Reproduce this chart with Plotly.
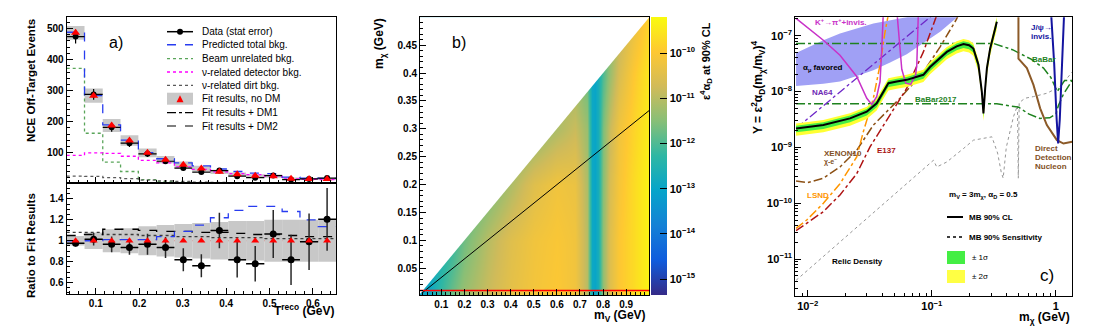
import plotly.graph_objects as go

W, H = 1100, 331
OFF = 8  # the page body margin shifts the figure by this many pixels
FONT = "Liberation Sans, Arial, sans-serif"

# ---------------- panel a) NCE off-target events ----------------
t_edges = [0.033, 0.074, 0.116, 0.157, 0.198, 0.240, 0.281, 0.322,
           0.364, 0.405, 0.446, 0.488, 0.529, 0.570, 0.612, 0.653]
data_events = [474, 288, 182, 131, 97, 73, 51, 38, 43, 25, 20, 27, 14, 16, 19]
data_err = [22, 17, 14, 12, 10, 9, 7, 6, 7, 5, 5, 5, 4, 4, 4]
fit_no_dm = [486, 284, 188, 140, 100, 78, 62, 50, 39, 31, 26, 25, 17, 16, 16]
fit_band = [0.045, 0.08, 0.11, 0.12, 0.14, 0.15, 0.16, 0.17, 0.18, 0.19, 0.19, 0.20, 0.20, 0.20, 0.20]
pred_total = [488, 284, 190, 141, 101, 81, 68, 58, 48, 40, 35, 33, 22, 19, 18]
beam_unrelated = [372, 163, 70, 40, 14, 8, 6, 4, 3, 2, 2, 1, 1, 1, 1]
nu_detector = [92, 100, 98, 89, 76, 68, 55, 47, 39, 33, 30, 25, 16, 15, 14]
nu_dirt = [25, 24, 20, 17, 12, 10, 8, 6, 5, 4, 3, 3, 2, 2, 2]

ratio_data = [0.976, 1.015, 0.966, 0.935, 0.966, 0.935, 0.817, 0.76, 1.097, 0.817, 0.78, 1.065, 0.817, 0.99, 1.205]
ratio_err = [0.03, 0.06, 0.075, 0.07, 0.1, 0.1, 0.11, 0.11, 0.17, 0.17, 0.17, 0.23, 0.24, 0.27, 0.3]
ratio_pred = [1.0, 1.0, 1.01, 1.01, 1.01, 1.04, 1.09, 1.15, 1.22, 1.29, 1.33, 1.33, 1.28, 1.2, 1.135]
ratio_dm1 = [1.08, 1.08, 1.06, 1.06, 1.05, 1.05, 1.04, 1.04, 1.03, 1.03, 1.03, 1.02, 1.02, 1.02, 1.02]
ratio_dm2 = [1.05, 1.06, 1.11, 1.11, 1.10, 1.09, 1.09, 1.08, 1.08, 1.07, 1.06, 1.06, 1.05, 1.04, 1.04]

# ---------------- panel b) limit map ----------------
bm_mv = [0.0, 0.05, 0.1, 0.15, 0.2, 0.3, 0.4, 0.5, 0.6, 0.68, 0.73, 0.752, 0.765, 0.778, 0.8, 0.83, 0.87, 0.93, 1.0]
bm_mchi = [0.0, 0.1, 0.2, 0.3, 0.4, 0.5]
bm_log_limit = [
    [-13.0, -12.9, -12.2, -11.7, -11.3, -10.8, -10.4, -10.15, -10.0, -10.2, -11.0, -12.9, -13.0, -12.7, -11.4, -10.5, -10.0, -9.7, -9.3],
    [-12.9, -12.9, -12.6, -12.2, -11.7, -11.0, -10.5, -10.2, -10.05, -10.2, -11.0, -12.9, -13.0, -12.7, -11.4, -10.5, -10.0, -9.7, -9.3],
    [-12.9, -12.9, -12.9, -12.5, -12.2, -11.7, -11.1, -10.5, -10.2, -10.3, -11.1, -12.9, -13.0, -12.7, -11.5, -10.6, -10.1, -9.7, -9.3],
    [-12.9, -12.9, -12.9, -12.5, -12.2, -12.0, -11.8, -11.5, -11.1, -10.8, -11.3, -12.9, -13.0, -12.7, -11.6, -10.8, -10.2, -9.8, -9.4],
    [-12.9, -12.9, -12.9, -12.5, -12.2, -12.0, -11.8, -11.5, -11.3, -11.3, -11.8, -12.9, -13.0, -12.7, -12.0, -11.3, -10.6, -10.0, -9.5],
    [-12.9, -12.9, -12.9, -12.5, -12.2, -12.0, -11.8, -11.5, -11.3, -11.3, -11.8, -12.9, -13.0, -12.7, -12.0, -11.5, -11.0, -10.4, -9.8],
]
kin_limit_mv = [0.0, 1.0]
kin_limit_mchi = [0.0, 0.5]
mv3_line_mv = [0.02, 1.0]
mv3_line_mchi = [0.0067, 0.333]
mchi_min_mv = [0.0, 1.0]
mchi_min = [0.01, 0.01]
cb_exponents = [-15, -14, -13, -12, -11, -10]

# ---------------- panel c) Y vs m_chi (log10 values) ----------------
mb_lgm = [-2.094, -1.874, -1.659, -1.524, -1.444, -1.390, -1.350, -1.282, -1.202, -1.068, -1.014,
          -0.879, -0.800, -0.745, -0.700, -0.665, -0.624, -0.597, -0.584, -0.570, -0.556, -0.530, -0.476]
mb_lgy = [-8.66, -8.60, -8.48, -8.36, -8.21, -8.00, -7.85, -7.82, -7.79, -7.70, -7.56,
          -7.29, -7.19, -7.15, -7.17, -7.23, -7.52, -8.00, -8.39, -7.94, -7.58, -7.23, -6.75]
amu_up_lgm = [-2.094, -1.874, -1.740, -1.471, -1.135, -0.800]
amu_up_lgy = [-7.31, -7.08, -6.96, -6.78, -6.64, -6.50]
amu_lo_lgm = [-2.094, -1.874, -1.740, -1.605, -1.471, -1.336, -1.202, -1.068, -0.933, -0.800, -0.750]
amu_lo_lgy = [-7.90, -7.86, -7.82, -7.72, -7.62, -7.48, -7.33, -7.13, -6.93, -6.68, -6.55]
kpi_lgm = [-2.094, -1.874, -1.740, -1.605, -1.524, -1.484, -1.444, -1.417, -1.403, -1.390, None,
           -1.282, -1.242, -1.210, -1.170, -1.130, -1.121, -1.108]
kpi_lgy = [-6.69, -7.08, -7.35, -7.73, -8.12, -8.23, -8.09, -7.82, -7.23, -6.55, None,
           -6.55, -7.60, -7.85, -7.87, -7.70, -7.52, -6.55]
na64_lgm = [-2.094, -0.950]
na64_lgy = [-8.66, -6.55]
babar_lgm = [-2.094, -0.500, -0.350, -0.200, -0.100, -0.040, 0.010, 0.040, 0.070, 0.131]
babar_lgy = [-7.14, -7.14, -7.25, -7.42, -7.58, -7.75, -8.00, -7.90, -7.80, -7.80]
babar17_lgm = [-2.094, -0.476, -0.300, -0.220, -0.130, -0.050, 0.000, 0.020, 0.060, 0.131]
babar17_lgy = [-8.22, -8.22, -8.28, -8.40, -8.48, -8.47, -8.40, -8.25, -8.05, -7.80]
xenon_lgm = [-2.094, -2.000, -1.874, -1.740, -1.605, -1.471, -1.256, -1.068, -0.933, -0.800, -0.770]
xenon_lgy = [-9.60, -9.63, -9.55, -9.35, -9.05, -8.60, -8.12, -7.65, -7.20, -6.70, -6.55]
lsnd_lgm = [-2.094, -2.008, -1.874, -1.740, -1.605, -1.552, -1.471, -1.417, -1.377, -1.344]
lsnd_lgy = [-10.45, -10.30, -10.00, -9.65, -9.17, -8.72, -8.12, -7.52, -6.93, -6.55]
e137_lgm = [-2.094, -2.008, -1.874, -1.740, -1.605, -1.498, -1.336, -1.202, -1.068, -0.960, -0.930]
e137_lgy = [-10.49, -10.36, -10.15, -9.85, -9.47, -8.99, -8.42, -7.94, -7.29, -6.63, -6.55]
relic_lgm = [-2.094, -0.987, -0.960, -0.879, -0.745, -0.665, -0.516, -0.470, -0.440, -0.425, -0.400,
             -0.342, -0.310, -0.303, -0.296, -0.250, -0.181, -0.073, 0.034, 0.131]
relic_lgy = [-11.38, -9.23, -9.35, -9.26, -9.02, -8.87, -8.81, -9.10, -9.45, -9.55, -9.00,
             -8.45, -8.25, -9.55, -8.20, -8.12, -8.09, -8.03, -7.91, -7.65]
dd_lgm = [-0.302, -0.302, -0.234, -0.181, -0.127, -0.073, 0.008, 0.061, 0.131]
dd_lgy = [-6.55, -7.41, -7.58, -7.88, -8.30, -8.60, -8.87, -8.93, -8.90]
jpsi_lgm = [-0.040, -0.014, 0.006, 0.018, 0.031, 0.051, 0.067]
jpsi_lgy = [-6.55, -7.50, -8.50, -8.93, -8.50, -7.50, -6.55]
band1 = (0.05, 0.07)   # +/- 1 sigma (up, down), decades
band2 = (0.09, 0.13)   # +/- 2 sigma


def px(v):
    return (v - OFF) / (W - OFF)


def py(v):
    return 1 - (v - OFF) / (H - OFF)


def pw(vals):
    return [None if v is None else 10 ** v for v in vals]


def font(size, color="black", bold=True):
    return dict(family=FONT, size=size, color=color, weight="bold" if bold else "normal")


def frame(**kw):
    minor = kw.pop("minor", None)
    ax = dict(showline=True, linecolor="black", linewidth=1, mirror=True, ticks="inside",
              ticklen=6, tickcolor="black", showgrid=False, zeroline=False,
              tickfont=font(10))
    if minor is not None:
        ax["minor"] = dict(ticks="inside", ticklen=3, tickcolor="black", showgrid=False, **minor)
    ax.update(kw)
    return ax


centers = [(a + b) / 2 for a, b in zip(t_edges[:-1], t_edges[1:])]
half_w = [(b - a) / 2 for a, b in zip(t_edges[:-1], t_edges[1:])]
widths = [2 * h for h in half_w]


def steps(vals):
    return t_edges, list(vals) + [vals[-1]]


fig = go.Figure()

# ---- panel a, top
band_abs = [f * b for f, b in zip(fit_no_dm, fit_band)]
fig.add_trace(go.Bar(x=centers, y=[2 * b for b in band_abs], base=[f - b for f, b in zip(fit_no_dm, band_abs)],
                     width=widths, marker=dict(color="#c8c8c8", line_width=0), xaxis="x", yaxis="y"))
for vals, color, dash in [(beam_unrelated, "rgb(90,165,90)", "dot"),
                          (nu_detector, "rgb(255,0,255)", "dot"),
                          (nu_dirt, "rgb(90,90,90)", "dot"),
                          (pred_total, "rgb(40,60,240)", "dash")]:
    sx, sy = steps(vals)
    fig.add_trace(go.Scatter(x=sx, y=sy, mode="lines", line=dict(color=color, width=1.3, dash=dash, shape="hv"),
                             xaxis="x", yaxis="y"))
fig.add_trace(go.Scatter(x=centers, y=data_events, mode="markers", marker=dict(color="black", size=6),
                         error_y=dict(array=data_err, color="black", thickness=1.2, width=0),
                         error_x=dict(array=half_w, color="black", thickness=1.2, width=0),
                         xaxis="x", yaxis="y"))
fig.add_trace(go.Scatter(x=centers, y=fit_no_dm, mode="markers",
                         marker=dict(color="red", size=8, symbol="triangle-up"), xaxis="x", yaxis="y"))

# ---- panel a, ratio
fig.add_trace(go.Bar(x=centers, y=[2 * b for b in fit_band], base=[1 - b for b in fit_band],
                     width=widths, marker=dict(color="#c8c8c8", line_width=0), xaxis="x2", yaxis="y2"))
for vals, color, dash in [(ratio_dm1, "rgb(60,60,60)", "dot"),
                          (ratio_dm2, "black", "dash"),
                          (ratio_pred, "rgb(40,60,240)", "dash")]:
    sx, sy = steps(vals)
    fig.add_trace(go.Scatter(x=sx, y=sy, mode="lines", line=dict(color=color, width=1.3, dash=dash, shape="hv"),
                             xaxis="x2", yaxis="y2"))
fig.add_trace(go.Scatter(x=centers, y=ratio_data, mode="markers", marker=dict(color="black", size=7),
                         error_y=dict(array=ratio_err, color="rgb(40,40,40)", thickness=1.5, width=0),
                         error_x=dict(array=half_w, color="black", thickness=1.5, width=0),
                         xaxis="x2", yaxis="y2"))
fig.add_trace(go.Scatter(x=centers, y=[1.0] * len(centers), mode="markers",
                         marker=dict(color="red", size=7, symbol="triangle-up"), xaxis="x2", yaxis="y2"))

# ---- panel b
kbird = [[0.0, "rgb(53,42,135)"], [0.125, "rgb(15,92,221)"], [0.25, "rgb(20,129,214)"],
         [0.375, "rgb(6,164,202)"], [0.5, "rgb(46,183,164)"], [0.625, "rgb(135,191,119)"],
         [0.75, "rgb(209,187,89)"], [0.875, "rgb(254,200,50)"], [1.0, "rgb(249,251,14)"]]
fig.add_trace(go.Heatmap(x=bm_mv, y=bm_mchi, z=bm_log_limit, zsmooth="best", colorscale=kbird,
                         zmin=-15.35, zmax=-9.2, xaxis="x3", yaxis="y3", hoverinfo="skip",
                         colorbar=dict(x=px(651), xanchor="left", xpad=0, ypad=0, thickness=16,
                                       len=py(17.3) - py(295), lenmode="fraction", y=py(295),
                                       yanchor="bottom", outlinewidth=0,
                                       tickvals=cb_exponents,
                                       ticktext=["10<sup>\u2212%d</sup>" % -e for e in cb_exponents],
                                       ticks="inside", ticklen=7, tickcolor="black",
                                       tickfont=font(11))))
fig.add_trace(go.Scatter(x=kin_limit_mv + kin_limit_mv[::-1], y=kin_limit_mchi + [0.6, 0.6],
                         fill="toself", fillcolor="white", mode="lines", line=dict(width=0),
                         xaxis="x3", yaxis="y3"))
fig.add_trace(go.Scatter(x=mv3_line_mv, y=mv3_line_mchi, mode="lines", line=dict(color="black", width=1),
                         xaxis="x3", yaxis="y3"))
fig.add_trace(go.Scatter(x=mchi_min_mv, y=mchi_min, mode="lines", line=dict(color="red", width=1.5),
                         xaxis="x3", yaxis="y3"))

# ---- panel c
def c_line(lgm, lgy, color, dash="solid", width=1.5):
    fig.add_trace(go.Scatter(x=pw(lgm), y=pw(lgy), mode="lines", line=dict(color=color, dash=dash, width=width),
                             xaxis="x4", yaxis="y4", connectgaps=False))


fig.add_trace(go.Scatter(x=pw(amu_up_lgm + amu_lo_lgm[::-1]), y=pw(amu_up_lgy + amu_lo_lgy[::-1]),
                         fill="toself", fillcolor="rgb(160,160,245)", mode="lines", line=dict(width=0),
                         xaxis="x4", yaxis="y4"))
c_line(relic_lgm, relic_lgy, "rgb(150,150,150)", "dot", 1)
c_line(babar_lgm, babar_lgy, "rgb(30,130,30)", "dashdot", 1.5)
c_line(babar17_lgm, babar17_lgy, "rgb(30,130,30)", "dashdot", 1.5)
c_line(na64_lgm, na64_lgy, "rgb(110,40,200)", "dashdot", 1.3)
c_line(xenon_lgm, xenon_lgy, "rgb(140,80,20)", "dashdot", 1.5)
c_line(lsnd_lgm, lsnd_lgy, "rgb(255,150,0)", "dashdot", 1.5)
c_line(e137_lgm, e137_lgy, "rgb(175,20,20)", "dashdot", 1.5)
c_line(dd_lgm, dd_lgy, "rgb(140,90,40)", "solid", 2)
c_line(jpsi_lgm, jpsi_lgy, "rgb(20,20,160)", "solid", 2)
for up, dn, color in [(band2[0], band2[1], "#ffff33"), (band1[0], band1[1], "#44ee44")]:
    fig.add_trace(go.Scatter(x=pw(mb_lgm + mb_lgm[::-1]),
                             y=pw([v + up for v in mb_lgy] + [v - dn for v in mb_lgy[::-1]]),
                             fill="toself", fillcolor=color, mode="lines", line=dict(width=0),
                             xaxis="x4", yaxis="y4"))
c_line(kpi_lgm, kpi_lgy, "rgb(200,50,200)", "solid", 1.5)
c_line(mb_lgm, mb_lgy, "black", "solid", 2)

# ---------------- layout ----------------
xa = [px(66.7), px(336)]
fig.update_layout(
    width=W - OFF, height=H - OFF, autosize=False, margin=dict(l=0, r=0, t=0, b=0),
    paper_bgcolor="white", plot_bgcolor="white", showlegend=False, barmode="overlay",
    font=dict(family=FONT, color="black"),
    xaxis=frame(domain=xa, range=[t_edges[0], t_edges[-1]], anchor="y", showticklabels=False,
                tickvals=[0.1, 0.2, 0.3, 0.4, 0.5, 0.6], minor=dict(dtick=0.02, tick0=0)),
    yaxis=frame(domain=[py(183), py(17)], range=[3, 537], anchor="x",
                tickvals=[100, 200, 300, 400, 500], minor=dict(dtick=20, tick0=0)),
    xaxis2=frame(domain=xa, range=[t_edges[0], t_edges[-1]], anchor="y2",
                 tickvals=[0.1, 0.2, 0.3, 0.4, 0.5, 0.6], minor=dict(dtick=0.02, tick0=0)),
    yaxis2=frame(domain=[py(294), py(183)], range=[0.49, 1.553], anchor="x2",
                 tickvals=[0.6, 0.8, 1.0, 1.2, 1.4], ticktext=["0.6", "0.8", "1", "1.2", "1.4"],
                 minor=dict(dtick=0.05, tick0=0)),
    xaxis3=frame(domain=[px(420), px(649.3)], range=[0.008, 1.0], anchor="y3",
                 tickvals=[0.1, 0.2, 0.3, 0.4, 0.5, 0.6, 0.7, 0.8, 0.9], minor=dict(dtick=0.02, tick0=0)),
    yaxis3=frame(domain=[py(295), py(17.3)], range=[0.002, 0.5], anchor="x3",
                 tickvals=[0.05, 0.1, 0.15, 0.2, 0.25, 0.3, 0.35, 0.4, 0.45], minor=dict(dtick=0.01, tick0=0)),
    xaxis4=frame(domain=[px(795.3), px(1072.3)], type="log", range=[-2.1, 0.132], anchor="y4",
                 tickvals=[0.01, 0.1, 1], ticktext=["10<sup>\u22122</sup>", "10<sup>\u22121</sup>", "1"],
                 tickfont=font(11), minor=dict(dtick="D1")),
    yaxis4=frame(domain=[py(296), py(17.3)], type="log", range=[-11.66, -6.67], anchor="x4",
                 tickvals=[1e-11, 1e-10, 1e-9, 1e-8, 1e-7],
                 ticktext=["10<sup>\u2212%d</sup>" % e for e in [11, 10, 9, 8, 7]],
                 tickfont=font(11), minor=dict(dtick="D1")),
)

ann = []


def text(x, y, s, size, color="black", bold=True, xanchor="left", angle=0):
    ann.append(dict(x=px(x), y=py(y), xref="paper", yref="paper", text=s, showarrow=False,
                    xanchor=xanchor, yanchor="middle", textangle=angle, font=font(size, color, bold)))


# axis titles
text(31, 81, "NCE Off-Target Events", 11.5, xanchor="center", angle=-90)
text(31, 246, "Ratio to Fit Results", 11.5, xanchor="center", angle=-90)
text(336, 310, "T<sup>reco</sup> (GeV)", 12, xanchor="right")
text(380, 44, "m<sub>\u03c7</sub> (GeV)", 12, xanchor="center", angle=-90)
text(648, 316, "m<sub>V</sub> (GeV)", 12, xanchor="right")
text(706, 61, "\u03b5<sup>4</sup>\u03b1<sub>D</sub> at 90% CL", 11, xanchor="center", angle=-90)
text(758, 88, "Y = \u03b5<sup>2</sup>\u03b1<sub>D</sub>(m<sub>\u03c7</sub>/m<sub>V</sub>)<sup>4</sup>", 12,
     xanchor="center", angle=-90)
text(1072, 318, "m<sub>\u03c7</sub> (GeV)", 12, xanchor="right")
text(116, 42, "a)", 16, bold=False, xanchor="center")
text(459, 42, "b)", 16, bold=False, xanchor="center")
text(1047, 275, "c)", 17, bold=False, xanchor="center")

# panel c labels
text(813, 22, "K<sup>+</sup>\u2192\u03c0<sup>+</sup>+invis.", 8, "rgb(200,50,200)")
text(801, 68, "\u03b1<sub>\u03bc</sub> favored", 8)
text(810, 93, "NA64", 8, "rgb(110,40,180)")
text(913, 100, "BaBar2017", 8, "rgb(30,130,30)")
text(1030, 60, "BaBar", 8, "rgb(30,130,30)")
text(1029, 27, "J/\u03c8\u2192", 8, "rgb(20,20,160)")
text(1029, 36.5, "invis.", 8, "rgb(20,20,160)")
text(822, 153, "XENON10", 8, "rgb(130,80,30)")
text(822, 162, "\u03c7-e<sup>\u2212</sup>", 7, "rgb(130,80,30)")
text(875, 150, "E137", 8, "rgb(170,20,20)")
text(805, 195, "LSND", 8, "rgb(255,150,0)")
text(830, 261, "Relic Density", 8)
for i, s in enumerate(["Direct", "Detection", "Nucleon"]):
    text(1033, 148 + 9 * i, s, 8, "rgb(130,80,30)")

shapes = [dict(type="line", xref="x2 domain", yref="y2", x0=0, x1=1, y0=1, y1=1,
               line=dict(color="red", width=1.2), layer="below")]

# panel a legend (drawn by hand: ROOT-style compact rows)
leg_rows = [31.7, 44.7, 58.7, 72, 85.3, 98.7, 112.7, 126]
leg_text = ["Data (stat error)", "Predicted total bkg.", "Beam unrelated bkg.",
            "\u03bd-related detector bkg.", "\u03bd-related dirt bkg.", "Fit results, no DM",
            "Fit results + DM1", "Fit results + DM2"]
leg_style = [("black", "solid", 1.5), ("rgb(40,60,240)", "dash", 1.5), ("rgb(90,165,90)", "dot", 1.3),
             ("rgb(255,0,255)", "dot", 1.3), ("rgb(90,90,90)", "dot", 1.3), None,
             ("black", "dashdot", 1.3), ("black", "dash", 1.1)]
for row, label, style in zip(leg_rows, leg_text, leg_style):
    if style is None:
        shapes.append(dict(type="rect", xref="paper", yref="paper", x0=px(167), x1=px(193),
                           y0=py(row + 6), y1=py(row - 6), fillcolor="#c8c8c8", line_width=0))
        shapes.append(dict(type="path", xref="paper", yref="paper", fillcolor="red", line_width=0,
                           path="M %f %f L %f %f L %f %f Z" % (px(176.5), py(row + 3.5), px(183.5), py(row + 3.5),
                                                              px(180), py(row - 3.5))))
    else:
        shapes.append(dict(type="line", xref="paper", yref="paper", x0=px(167), x1=px(193), y0=py(row), y1=py(row),
                           line=dict(color=style[0], dash=style[1], width=style[2])))
    if row == leg_rows[0]:
        shapes.append(dict(type="circle", xref="paper", yref="paper", x0=px(177), x1=px(183),
                           y0=py(row + 3), y1=py(row - 3), fillcolor="black", line_width=0))
    text(200, row, label, 10, bold=False)

# panel c legend
text(947, 195, "m<sub>V</sub> = 3m<sub>\u03c7</sub>, \u03b1<sub>D</sub> = 0.5", 8)
shapes.append(dict(type="line", xref="paper", yref="paper", x0=px(947), x1=px(963), y0=py(217), y1=py(217),
                   line=dict(color="black", width=2)))
shapes.append(dict(type="line", xref="paper", yref="paper", x0=px(947), x1=px(963), y0=py(237), y1=py(237),
                   line=dict(color="black", width=1.5, dash="dot")))
shapes.append(dict(type="rect", xref="paper", yref="paper", x0=px(947), x1=px(965), y0=py(264), y1=py(251),
                   fillcolor="#44ee44", line_width=0))
shapes.append(dict(type="rect", xref="paper", yref="paper", x0=px(947), x1=px(965), y0=py(283), y1=py(270),
                   fillcolor="#ffff44", line_width=0))
text(967, 217, "MB 90% CL", 8)
text(967, 237, "MB 90% Sensitivity", 8)
text(970, 257.5, "\u00b1 1\u03c3", 8, bold=False)
text(970, 276.5, "\u00b1 2\u03c3", 8, bold=False)

fig.update_layout(annotations=ann, shapes=shapes)
fig.write_html("out.html")
